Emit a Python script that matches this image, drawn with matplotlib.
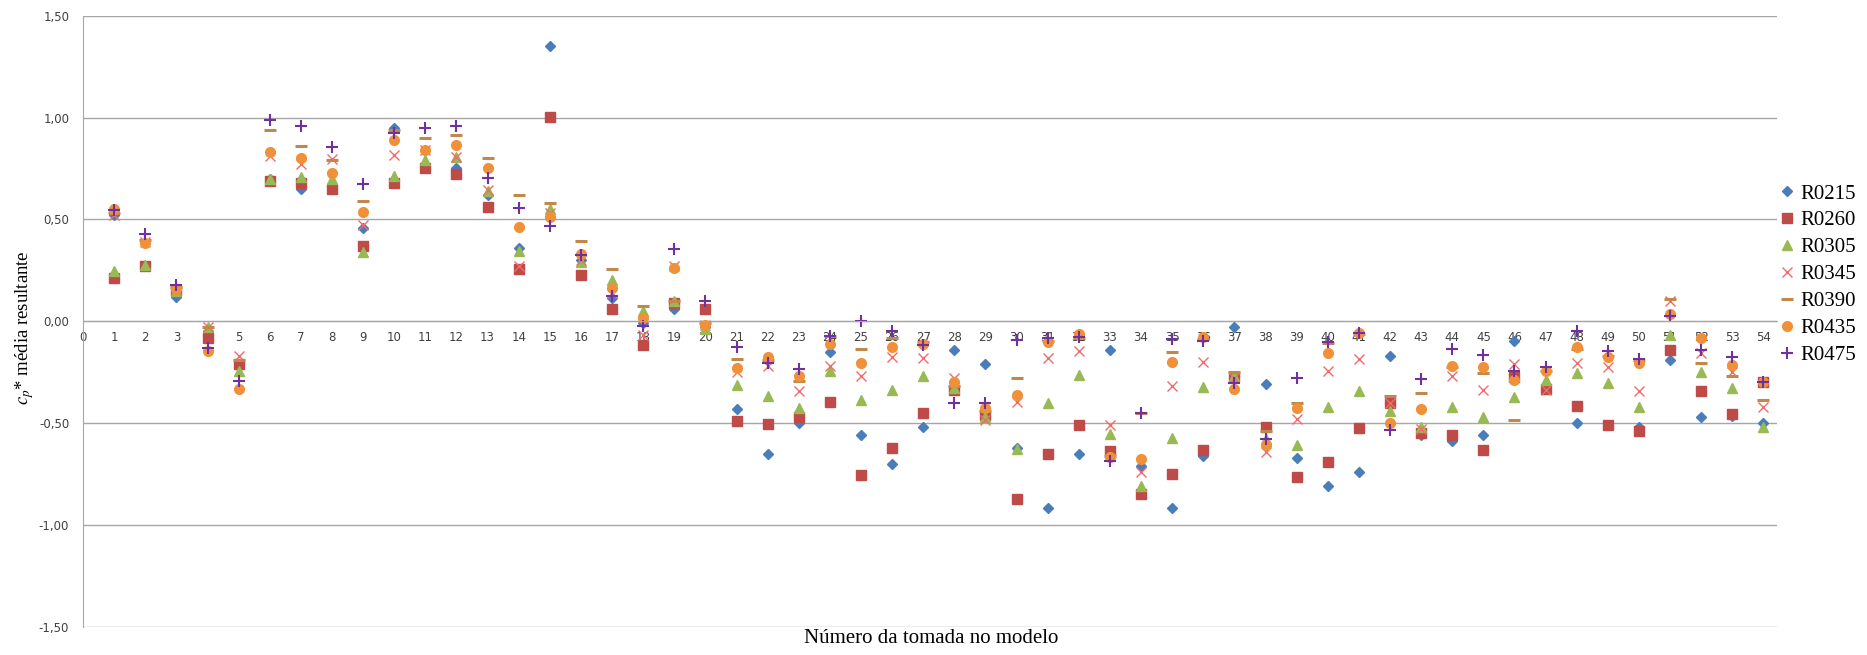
import matplotlib
matplotlib.use("Agg")
import matplotlib.pyplot as plt
import numpy as np

plt.rcParams["mathtext.fontset"] = "stix"

# numero da tomada
tomadas = list(range(1, 55))

R0215 = [0.52, 0.27, 0.12, -0.05, -0.22, 0.70, 0.65, 0.66, 0.46, 0.95,
         0.76, 0.75, 0.62, 0.36, 1.35, 0.30, 0.115, -0.01, 0.06, -0.03,
         -0.43, -0.65, -0.50, -0.15, -0.56, -0.70, -0.52, -0.14, -0.21, -0.62,
         -0.915, -0.65, -0.14, -0.71, -0.915, -0.66, -0.03, -0.31, -0.67, -0.81,
         -0.74, -0.17, -0.56, -0.59, -0.56, -0.095, -0.33, -0.50, -0.51, -0.52,
         -0.19, -0.47, -0.465, -0.50]
R0260 = [0.21, 0.27, 0.15, -0.08, -0.21, 0.69, 0.68, 0.65, 0.37, 0.68,
         0.75, 0.725, 0.56, 0.255, 1.005, 0.225, 0.06, -0.115, 0.09, 0.06,
         -0.49, -0.505, -0.47, -0.395, -0.757, -0.62, -0.448, -0.338, -0.46, -0.87,
         -0.652, -0.51, -0.636, -0.849, -0.75, -0.633, -0.275, -0.521, -0.762, -0.69,
         -0.525, -0.403, -0.546, -0.559, -0.633, -0.272, -0.333, -0.415, -0.508, -0.538,
         -0.141, -0.341, -0.456, -0.30]
R0305 = [0.246, 0.275, 0.15, -0.03, -0.246, 0.70, 0.71, 0.70, 0.34, 0.713,
         0.79, 0.807, 0.64, 0.344, 0.549, 0.292, 0.205, 0.05, 0.098, -0.04,
         -0.311, -0.366, -0.426, -0.246, -0.387, -0.336, -0.267, -0.328, -0.472, -0.628,
         -0.403, -0.264, -0.554, -0.808, -0.575, -0.325, -0.27, -0.58, -0.607, -0.42,
         -0.344, -0.44, -0.52, -0.42, -0.469, -0.374, -0.289, -0.254, -0.305, -0.42,
         -0.066, -0.251, -0.328, -0.521]
R0345 = [0.52, 0.39, 0.16, -0.03, -0.17, 0.81, 0.77, 0.795, 0.475, 0.816,
         0.84, 0.807, 0.643, 0.27, 0.53, 0.30, 0.14, -0.065, 0.27, -0.02,
         -0.25, -0.221, -0.341, -0.221, -0.267, -0.174, -0.18, -0.279, -0.485, -0.395,
         -0.18, -0.144, -0.51, -0.738, -0.316, -0.20, -0.28, -0.644, -0.48, -0.243,
         -0.185, -0.40, -0.53, -0.267, -0.338, -0.21, -0.338, -0.205, -0.226, -0.344,
         0.10, -0.156, -0.251, -0.42]
R0390 = [0.53, 0.40, 0.17, -0.03, -0.19, 0.94, 0.86, 0.79, 0.59, 0.94,
         0.90, 0.915, 0.80, 0.618, 0.582, 0.393, 0.259, 0.074, 0.10, -0.01,
         -0.187, -0.19, -0.295, -0.07, -0.134, -0.08, -0.10, -0.32, -0.44, -0.279,
         -0.095, -0.08, -0.66, -0.45, -0.149, -0.087, -0.248, -0.538, -0.403, -0.108,
         -0.062, -0.366, -0.354, -0.226, -0.254, -0.485, -0.243, -0.136, -0.169, -0.19,
         0.11, -0.205, -0.267, -0.387]
R0435 = [0.549, 0.382, 0.156, -0.144, -0.33, 0.83, 0.80, 0.726, 0.538, 0.889,
         0.84, 0.864, 0.75, 0.462, 0.513, 0.331, 0.164, 0.016, 0.26, -0.016,
         -0.231, -0.174, -0.267, -0.11, -0.207, -0.128, -0.11, -0.297, -0.426, -0.362,
         -0.10, -0.062, -0.666, -0.677, -0.198, -0.079, -0.33, -0.607, -0.426, -0.156,
         -0.057, -0.497, -0.431, -0.221, -0.223, -0.287, -0.246, -0.128, -0.174, -0.203,
         0.036, -0.082, -0.213, -0.30]
R0475 = [0.546, 0.426, 0.18, -0.13, -0.295, 0.99, 0.96, 0.856, 0.675, 0.926,
         0.95, 0.96, 0.705, 0.554, 0.467, 0.325, 0.123, -0.025, 0.356, 0.098,
         -0.128, -0.207, -0.234, -0.07, 0.00, -0.05, -0.116, -0.40, -0.40, -0.092,
         -0.084, -0.075, -0.685, -0.451, -0.087, -0.095, -0.305, -0.579, -0.279, -0.10,
         -0.057, -0.534, -0.285, -0.136, -0.164, -0.246, -0.226, -0.046, -0.148, -0.185,
         0.025, -0.139, -0.177, -0.30]

series = [("R0215", R0215, "D", "#4A7EBB", 5.5, 1.0),
          ("R0260", R0260, "s", "#BE4B48", 6.5, 1.0),
          ("R0305", R0305, "^", "#98B954", 7.0, 1.0),
          ("R0345", R0345, "x", "#F26B6B", 7.0, 1.0),
          ("R0390", R0390, "_", "#C0884A", 8.0, 2.2),
          ("R0435", R0435, "o", "#F0913A", 7.0, 1.0),
          ("R0475", R0475, "+", "#7030A0", 8.0, 1.5)]

fig = plt.figure(figsize=(18.67, 6.55), dpi=100)
ax = fig.add_axes([0.0445, 0.043, 0.9075, 0.933])

for nome, vals, mk, cor, ms, mew in series:
    ax.plot(tomadas, vals, linestyle="none", marker=mk, color=cor,
            markersize=ms, markeredgewidth=mew, label=nome)

ax.set_xlim(0, 54.45)
ax.set_ylim(-1.5, 1.5)
ax.set_yticks(np.arange(-1.5, 1.51, 0.5))
ax.set_yticklabels([f"{v:.2f}".replace(".", ",") for v in np.arange(-1.5, 1.51, 0.5)])
ax.set_xticks(range(0, 55))
ax.grid(axis="y", color="#A6A6A6", linewidth=1)
ax.set_axisbelow(True)

for s in ["top", "right"]:
    ax.spines[s].set_visible(False)
ax.spines["left"].set_color("#A6A6A6")
ax.spines["bottom"].set_position(("data", 0))
ax.spines["bottom"].set_color("#A6A6A6")
ax.tick_params(axis="both", length=0, labelsize=8.5, labelcolor="#404040")
ax.tick_params(axis="x", pad=7)
ax.tick_params(axis="y", pad=10)

ax.set_ylabel(r"$c_p$* média resultante", fontsize=13.5, family="Liberation Serif")
ax.yaxis.set_label_coords(-0.028, 0.49)
fig.text(0.499, 0.010, "Número da tomada no modelo", fontsize=15,
         family="Liberation Serif", ha="center", va="bottom")

fig.legend(loc="center left", bbox_to_anchor=(0.953, 0.581), frameon=False,
           prop={"family": "Liberation Serif", "size": 15},
           handlelength=0.7, handletextpad=0.3, labelspacing=0.35,
           borderaxespad=0, borderpad=0)

fig.savefig("out.png", dpi=100)
